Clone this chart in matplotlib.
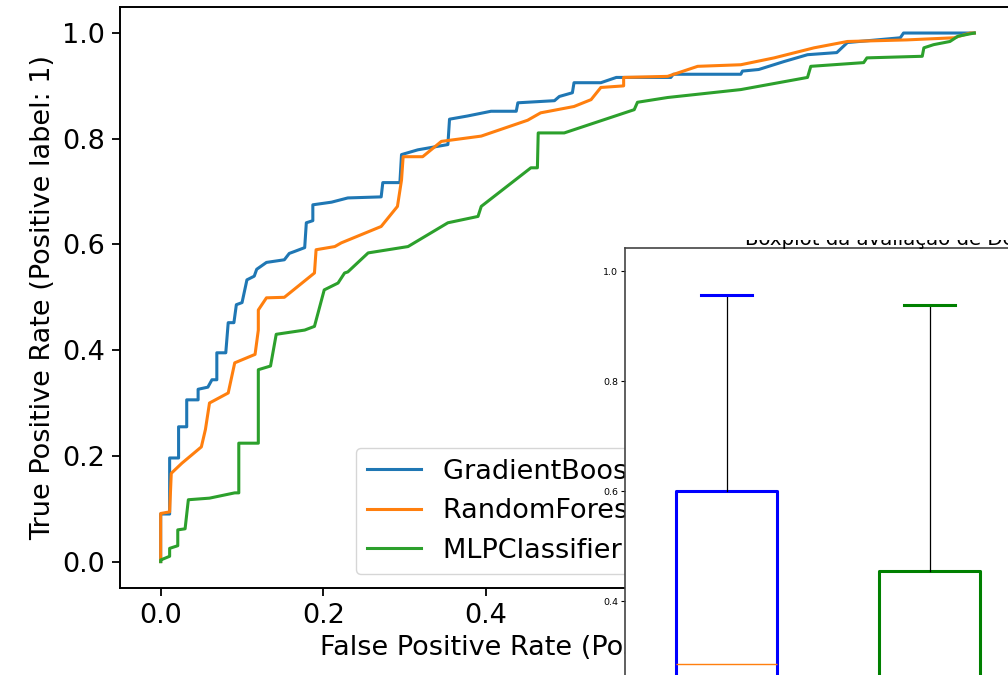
import numpy as np
import matplotlib
matplotlib.use("Agg")
import matplotlib.pyplot as plt
from matplotlib.transforms import Bbox, TransformedBbox

# ROC curves (fpr, tpr vertices)
gb_fpr = [0.0, 0.0, 0.011, 0.011, 0.022, 0.022, 0.032, 0.032, 0.046, 0.046, 0.058, 0.063, 0.069, 0.069,
          0.08, 0.083, 0.09, 0.093, 0.1, 0.106, 0.115, 0.118, 0.13, 0.152, 0.158, 0.165, 0.177, 0.179,
          0.187, 0.187, 0.21, 0.23, 0.271, 0.273, 0.294, 0.296, 0.316, 0.353, 0.355, 0.377, 0.406,
          0.437, 0.439, 0.484, 0.49, 0.506, 0.508, 0.541, 0.56, 0.627, 0.63, 0.713, 0.715, 0.735,
          0.766, 0.795, 0.831, 0.844, 0.909, 0.913, 1.0]
gb_tpr = [0.0, 0.09, 0.09, 0.196, 0.196, 0.255, 0.255, 0.306, 0.306, 0.326, 0.33, 0.344, 0.344, 0.395,
          0.395, 0.452, 0.452, 0.486, 0.49, 0.533, 0.54, 0.553, 0.566, 0.571, 0.583, 0.587, 0.594, 0.641,
          0.645, 0.675, 0.68, 0.688, 0.69, 0.717, 0.717, 0.77, 0.779, 0.789, 0.837, 0.843, 0.852,
          0.852, 0.868, 0.872, 0.88, 0.887, 0.906, 0.906, 0.916, 0.916, 0.922, 0.922, 0.928, 0.931,
          0.946, 0.959, 0.963, 0.982, 0.991, 1.0, 1.0]

rf_fpr = [0.0, 0.0, 0.011, 0.013, 0.026, 0.05, 0.055, 0.06, 0.083, 0.091, 0.116, 0.12, 0.12, 0.13,
          0.152, 0.189, 0.191, 0.214, 0.222, 0.271, 0.291, 0.296, 0.298, 0.322, 0.345, 0.394, 0.451,
          0.467, 0.508, 0.529, 0.541, 0.569, 0.569, 0.623, 0.66, 0.713, 0.754, 0.803, 0.844, 0.917,
          0.975, 0.995, 1.0]
rf_tpr = [0.0, 0.091, 0.094, 0.167, 0.186, 0.217, 0.25, 0.3, 0.319, 0.376, 0.392, 0.438, 0.476, 0.499,
          0.5, 0.546, 0.59, 0.596, 0.603, 0.634, 0.672, 0.722, 0.766, 0.766, 0.795, 0.805, 0.835,
          0.849, 0.861, 0.874, 0.897, 0.9, 0.916, 0.918, 0.937, 0.94, 0.953, 0.972, 0.984, 0.987,
          0.991, 1.0, 1.0]

mlp_fpr = [0.0, 0.0, 0.011, 0.011, 0.021, 0.021, 0.03, 0.034, 0.06, 0.091, 0.096, 0.096, 0.12, 0.12,
           0.135, 0.142, 0.177, 0.189, 0.201, 0.218, 0.226, 0.23, 0.255, 0.304, 0.353, 0.39, 0.394,
           0.455, 0.463, 0.464, 0.496, 0.582, 0.586, 0.623, 0.713, 0.795, 0.799, 0.864, 0.868, 0.936,
           0.938, 0.95, 0.97, 0.98, 1.0]
mlp_tpr = [0.0, 0.003, 0.01, 0.025, 0.03, 0.06, 0.062, 0.117, 0.12, 0.13, 0.13, 0.224, 0.224, 0.363,
           0.37, 0.43, 0.438, 0.445, 0.514, 0.527, 0.546, 0.548, 0.584, 0.596, 0.641, 0.653, 0.672,
           0.745, 0.745, 0.811, 0.811, 0.855, 0.869, 0.878, 0.893, 0.916, 0.937, 0.944, 0.953, 0.956,
           0.972, 0.978, 0.984, 0.994, 1.0]

model_names = ["GradientBoostingClassifier", "RandomForestClassifier", "MLPClassifier"]
auc_values = [0.80, 0.78, 0.72]

# boxplot stats of the overlapping inset
box_whishi = [0.956, 0.938]
box_q3 = [0.60, 0.455]
box_med = [0.285, 0.22]
box_q1 = [0.15, 0.12]
box_whislo = [0.02, 0.03]
box_colors = ["#0000ff", "#008000"]
box_yticks = [0.4, 0.6, 0.8, 1.0]

W, H = 1008, 675
fig = plt.figure(figsize=(W / 100, H / 100), dpi=100)
fig.patch.set_facecolor("white")

FS = 19.5
ax = fig.add_axes([120 / W, 1 - 588 / H, 895 / W, (588 - 6.6) / H])
curves = [(gb_fpr, gb_tpr), (rf_fpr, rf_tpr), (mlp_fpr, mlp_tpr)]
for (fpr, tpr), name, auc in zip(curves, model_names, auc_values):
    ax.plot(fpr, tpr, lw=2.2, label=f"{name} (AUC = {auc:.2f})")
ax.set_xlim(-0.05, 1.05)
ax.set_ylim(-0.05, 1.05)
ax.set_xticks([0.0, 0.2, 0.4, 0.6, 0.8, 1.0])
ax.set_yticks([0.0, 0.2, 0.4, 0.6, 0.8, 1.0])
ax.tick_params(labelsize=FS, length=6, width=1.3, pad=5)
for s in ax.spines.values():
    s.set_linewidth(1.4)
ax.set_xlabel("False Positive Rate (Positive label: 1)", fontsize=FS)
ax.set_ylabel("True Positive Rate (Positive label: 1)", fontsize=FS)
ax.legend(loc="lower right", fontsize=FS)

# inset boxplot figure pasted on top
ax2 = fig.add_axes([625 / W, 1 - 248 / H - 573 / H, 406 / W, 573 / H])
ax2.set_facecolor("white")
stats = []
for i in range(len(box_q3)):
    stats.append({"whishi": box_whishi[i], "q3": box_q3[i], "med": box_med[i],
                  "q1": box_q1[i], "whislo": box_whislo[i], "fliers": []})
bp = ax2.bxp(stats, positions=[1, 2], widths=0.5,
             whiskerprops=dict(color="black", lw=0.9),
             medianprops=dict(color="#ff7f0e", lw=1.0))
for i, c in enumerate(box_colors):
    bp["boxes"][i].set_color(c)
    bp["boxes"][i].set_linewidth(2.2)
    for cap in bp["caps"][2 * i:2 * i + 2]:
        cap.set_color(c)
        cap.set_linewidth(2.2)
ax2.set_xlim(0.5, 2.5)
ax2.set_ylim(0.0, 1.042)
ax2.set_yticks(box_yticks)
ax2.set_xticks([])
ax2.tick_params(labelsize=6.8, length=3, width=0.8, pad=2)
for s in ax2.spines.values():
    s.set_linewidth(1.2)
    s.set_color("#444444")

title = fig.text(745 / W, 1 - 245 / H, "Boxplot da avaliação de Desempenho dos Modelos",
                 fontsize=14.2, ha="left", va="baseline")
clip = TransformedBbox(Bbox([[740 / W, 0.0], [1.0, 1 - 240 / H]]), fig.transFigure)
title.set_clip_box(clip)
title.set_clip_on(True)

fig.savefig("out.png", dpi=100, facecolor="white")
